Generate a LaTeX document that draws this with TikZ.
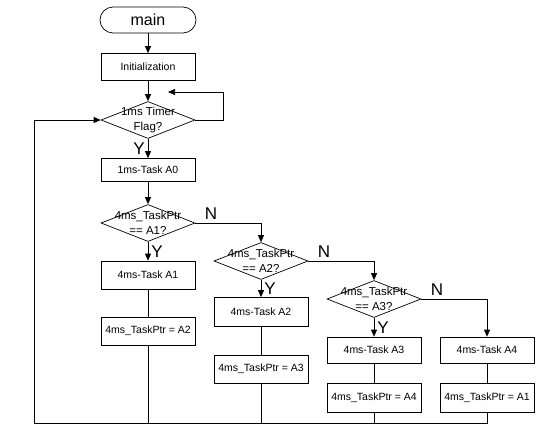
\documentclass[tikz,border=0pt]{standalone}
\usepackage{fontspec}
\setmainfont{Liberation Sans}
\usetikzlibrary{arrows.meta,shapes.geometric,positioning}

\begin{document}
\begin{tikzpicture}[x=1pt,y=-1pt,line width=0.7pt,
  box/.style={draw,minimum width=94pt,minimum height=27pt,inner sep=1pt,
    font=\fontsize{10.5}{12}\selectfont},
  cond/.style={draw,diamond,minimum width=94pt,minimum height=37pt,inner sep=0pt},
  condtext/.style={align=center,font=\fontsize{11.5}{15}\selectfont},
  yn/.style={font=\fontsize{17}{17}\selectfont,inner sep=3pt},
  >={Triangle[length=7pt,width=6pt]}]
  \useasboundingbox(0,0)rectangle(554,431);
  % start and init
  \node[draw,rounded corners=13pt,minimum width=96pt,minimum height=26pt,
    font=\fontsize{16}{16}\selectfont](main)at(148,20){main};
  \node[box](init)at(148,67){Initialization};
  \node[cond,label={[condtext]center:{1ms Timer\\Flag?}}](timer)at(148,120){};
  \node[box,minimum height=23pt](a0)at(148,170){1ms-Task A0};
  % 4ms task chain
  \node[cond,label={[condtext]center:{4ms\_TaskPtr\\== A1?}}](c1)at(148,223){};
  \node[box,minimum height=28pt](t1)at(148,275){4ms-Task A1};
  \node[box,minimum height=28pt](p1)at(148,331){4ms\_TaskPtr = A2};
  \node[cond,label={[condtext]center:{4ms\_TaskPtr\\== A2?}}](c2)at(261,261){};
  \node[box,minimum height=29pt](t2)at(261,312){4ms-Task A2};
  \node[box,minimum height=28pt](p2)at(261,369){4ms\_TaskPtr = A3};
  \node[cond,label={[condtext]center:{4ms\_TaskPtr\\== A3?}}](c3)at(374,299){};
  \node[box,minimum height=26pt](t3)at(374,350){4ms-Task A3};
  \node[box,minimum height=29pt](p3)at(374,398){4ms\_TaskPtr = A4};
  \node[box,minimum height=26pt](t4)at(487,350){4ms-Task A4};
  \node[box,minimum height=29pt](p4)at(487,398){4ms\_TaskPtr = A1};
  \coordinate(fbr)at(223,92);
  \coordinate(fb)at(168,92);
  \coordinate(bl)at(34,423);
  % connectors
  \draw[->](main)--(init);
  \draw[->](init)--(timer);
  \draw[->](timer.east)-|(fbr)--(fb);
  \draw[->](timer)--node[yn,left]{Y}(a0);
  \draw[->](a0)--(c1);
  \draw[->](c1)--node[yn,right]{Y}(t1);
  \draw(t1)--(p1);
  \draw[->](c1.east)-|node[yn,above,pos=0.12]{N}(c2);
  \draw[->](c2)--node[yn,right]{Y}(t2);
  \draw(t2)--(p2);
  \draw[->](c2.east)-|node[yn,above,pos=0.12]{N}(c3);
  \draw[->](c3)--node[yn,right]{Y}(t3);
  \draw(t3)--(p3);
  \draw[->](c3.east)-|node[yn,above,pos=0.12]{N}(t4);
  \draw(t4)--(p4);
  % back to the timer flag
  \draw(p1)--(p1|-bl);
  \draw(p2)--(p2|-bl);
  \draw(p3)--(p3|-bl);
  \draw[->](p4)--(p4|-bl)--(bl)|-(timer.west);
\end{tikzpicture}
\end{document}
